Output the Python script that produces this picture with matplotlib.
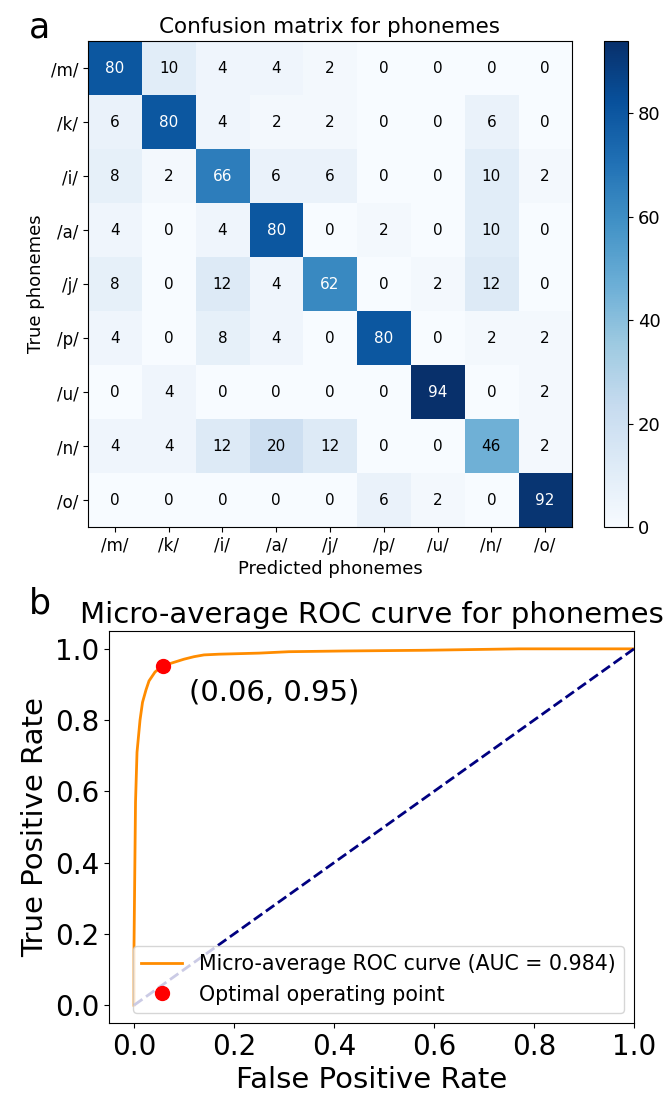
import numpy as np
import matplotlib
matplotlib.use("Agg")
import matplotlib.pyplot as plt

# Данные: матрица ошибок
phonemes = ["/m/", "/k/", "/i/", "/a/", "/j/", "/p/", "/u/", "/n/", "/o/"]
cm = np.array([
    [80, 10, 4, 4, 2, 0, 0, 0, 0],
    [6, 80, 4, 2, 2, 0, 0, 6, 0],
    [8, 2, 66, 6, 6, 0, 0, 10, 2],
    [4, 0, 4, 80, 0, 2, 0, 10, 0],
    [8, 0, 12, 4, 62, 0, 2, 12, 0],
    [4, 0, 8, 4, 0, 80, 0, 2, 2],
    [0, 4, 0, 0, 0, 0, 94, 0, 2],
    [4, 4, 12, 20, 12, 0, 0, 46, 2],
    [0, 0, 0, 0, 0, 6, 2, 0, 92],
])

# Данные: ROC-кривая (микроусреднение)
fpr = [0.0, 0.0, 0.003, 0.006, 0.012, 0.017, 0.024, 0.03, 0.042, 0.058, 0.075, 0.1,
       0.12, 0.14, 0.17, 0.25, 0.31, 0.42, 0.58, 0.77, 1.0]
tpr = [0.0, 0.17, 0.57, 0.71, 0.8, 0.85, 0.885, 0.91, 0.935, 0.953, 0.96, 0.971,
       0.978, 0.983, 0.985, 0.988, 0.992, 0.994, 0.996, 1.0, 1.0]
roc_auc = 0.984
opt_fpr, opt_tpr = 0.058, 0.953

fig = plt.figure(figsize=(6.68, 11.03), dpi=100)

# Панель a
ax1 = fig.add_axes([0.1317, 0.5222, 0.7246, 0.4406])
im = ax1.imshow(cm, cmap="Blues", interpolation="nearest", aspect="auto", vmin=0, vmax=cm.max())
ax1.set_title("Confusion matrix for phonemes", fontsize=15.5)
ax1.set_xticks(range(len(phonemes)))
ax1.set_yticks(range(len(phonemes)))
ax1.set_xticklabels(phonemes, fontsize=12)
ax1.set_yticklabels(phonemes, fontsize=12)
ax1.set_xlabel("Predicted phonemes", fontsize=13)
ax1.set_ylabel("True phonemes", fontsize=13)
thresh = cm.max() / 2
for i in range(cm.shape[0]):
    for j in range(cm.shape[1]):
        ax1.text(j, i, str(cm[i, j]), ha="center", va="center", fontsize=11,
                 color="white" if cm[i, j] > thresh else "black")

cax = fig.add_axes([0.9042, 0.5222, 0.0359, 0.4406])
cb = fig.colorbar(im, cax=cax, ticks=[0, 20, 40, 60, 80])
cb.ax.tick_params(labelsize=13)

fig.text(0.043, 0.975, "a", fontsize=25, ha="left", va="center")

# Панель b
ax2 = fig.add_axes([0.1632, 0.0725, 0.7859, 0.3554])
ax2.plot(fpr, tpr, color="darkorange", lw=2,
         label="Micro-average ROC curve (AUC = %0.3f)" % roc_auc)
ax2.plot([0, 1], [0, 1], color="navy", lw=2, linestyle="--")
ax2.plot(opt_fpr, opt_tpr, "o", color="red", markersize=10, label="Optimal operating point")
ax2.text(opt_fpr + 0.052, opt_tpr - 0.075, "(%.2f, %.2f)" % (0.06, 0.95),
         fontsize=21, va="center", ha="left")
ax2.set_xlim(-0.05, 1.0)
ax2.set_ylim(-0.05, 1.05)
ax2.set_xticks([0.0, 0.2, 0.4, 0.6, 0.8, 1.0])
ax2.set_yticks([0.0, 0.2, 0.4, 0.6, 0.8, 1.0])
ax2.tick_params(labelsize=20)
ax2.set_xlabel("False Positive Rate", fontsize=21)
ax2.set_ylabel("True Positive Rate", fontsize=21)
ax2.set_title("Micro-average ROC curve for phonemes", fontsize=21)
ax2.legend(loc="lower right", fontsize=14.8)

fig.text(0.043, 0.453, "b", fontsize=25, ha="left", va="center")

fig.savefig("out.png", dpi=100)
